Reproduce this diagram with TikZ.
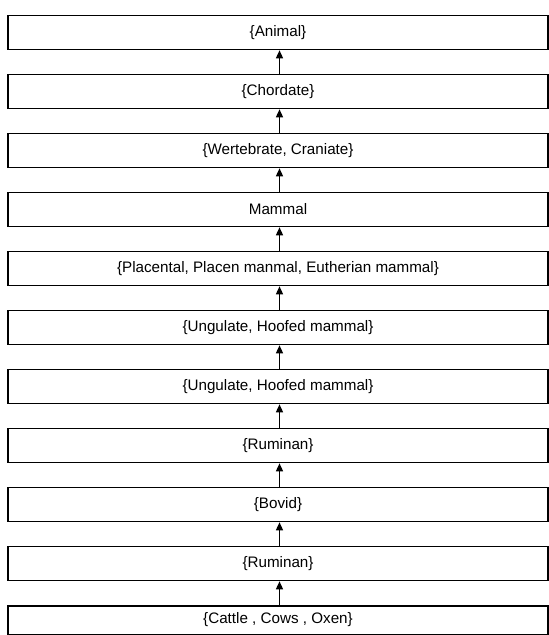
\documentclass[tikz,border=0pt]{standalone}
\usepackage{fontspec}
\setmainfont{Liberation Sans}
\usetikzlibrary{arrows.meta}
\begin{document}
\begin{tikzpicture}[x=1pt,y=-1pt,
  taxbox/.style={draw,line width=1.6pt,minimum width=540pt,minimum height=34pt,inner sep=0pt,anchor=north,font=\fontsize{15.2}{17}\selectfont},
  uparrow/.style={-{Triangle[length=8pt,width=7pt]},line width=1.4pt}]
\useasboundingbox (0,0) rectangle (549,635);
\node[taxbox] (b1) at (278,14.7) {\{Animal\}};
\node[taxbox] (b2) at (278,73.7) {\{Chordate\}};
\node[taxbox] (b3) at (278,132.7) {\{Wertebrate, Craniate\}};
\node[taxbox] (b4) at (278,191.7) {Mammal};
\node[taxbox] (b5) at (278,250.7) {\{Placental, Placen manmal, Eutherian mammal\}};
\node[taxbox] (b6) at (278,309.7) {\{Ungulate, Hoofed mammal\}};
\node[taxbox] (b7) at (278,368.7) {\{Ungulate, Hoofed mammal\}};
\node[taxbox] (b8) at (278,427.7) {\{Ruminan\}};
\node[taxbox] (b9) at (278,486.7) {\{Bovid\}};
\node[taxbox] (b10) at (278,545.7) {\{Ruminan\}};
\node[taxbox,minimum height=28.5pt] (b11) at (278,605) {\{Cattle , Cows , Oxen\}};
\foreach \a/\b in {b2/b1,b3/b2,b4/b3,b5/b4,b6/b5,b7/b6,b8/b7,b9/b8,b10/b9,b11/b10}
  \draw[uparrow] ([xshift=1.5pt]\a.north) -- ([xshift=1.5pt]\b.south);
\end{tikzpicture}
\end{document}
